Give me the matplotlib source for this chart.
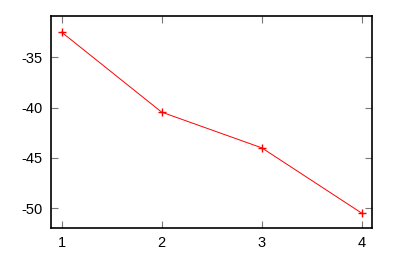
import matplotlib
matplotlib.use("Agg")
import matplotlib.pyplot as plt

# valores
x_vals = [1, 2, 3, 4]
y_vals = [-32.5, -40.45, -44.0, -50.5]
x_ticks = [1, 2, 3, 4]
y_ticks = [-35, -40, -45, -50]

plt.rcParams['font.family'] = ['Liberation Sans', 'DejaVu Sans']

fig = plt.figure(figsize=(4.0, 2.57), dpi=100)
ax = fig.add_axes([51 / 400, 1 - 228 / 257, 321 / 400, 212 / 257])

ax.plot(x_vals, y_vals, color="red", linewidth=0.7, marker="+",
        markersize=6, markeredgewidth=1.0)

ax.set_xlim(0.895, 4.1)
ax.set_ylim(-51.96, -30.9)
ax.set_xticks(x_ticks)
ax.set_yticks(y_ticks)
ax.set_xticklabels([str(v) for v in x_ticks])
ax.set_yticklabels([str(v) for v in y_ticks])
ax.tick_params(direction="in", length=5, width=0.8, labelsize=10.5, pad=6,
               top=True, right=True, colors="#777777", labelcolor="black")
for s in ax.spines.values():
    s.set_linewidth(1.2)

fig.savefig("out.png", dpi=100)
